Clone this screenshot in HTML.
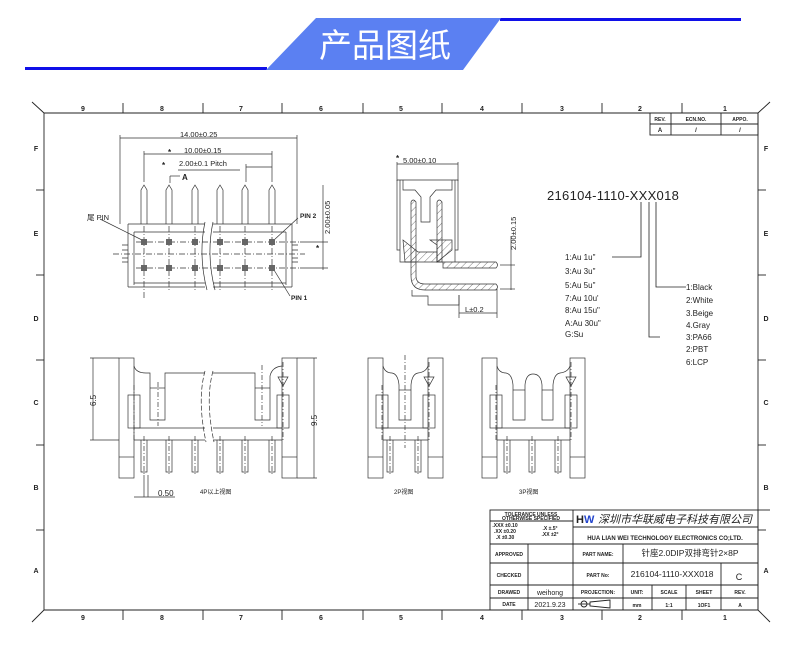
<!DOCTYPE html>
<html><head><meta charset="utf-8">
<style>
html,body{margin:0;padding:0;background:#fff;}
svg{display:block;}
text{font-family:"Liberation Sans","Noto Sans CJK SC",sans-serif;fill:#222;}
</style></head>
<body>
<svg width="790" height="663" viewBox="0 0 790 663" xmlns="http://www.w3.org/2000/svg">
<defs>
<pattern id="h" width="5" height="5" patternUnits="userSpaceOnUse" patternTransform="rotate(45)">
<line x1="0" y1="0" x2="0" y2="5" stroke="#444" stroke-width="0.7"/>
</pattern>
</defs>
<!-- header -->
<rect x="25" y="67" width="242" height="3" fill="#1010e8"/>
<rect x="500" y="18" width="241" height="3" fill="#1010e8"/>
<polygon points="316,18 501,18 463,70 266,70" fill="#5b80f2"/>
<text x="385" y="57" font-size="33" text-anchor="middle" style="fill:#fff;font-family:'Noto Sans CJK SC',sans-serif">产品图纸</text>

<g stroke="#222" stroke-width="0.9" fill="none">
<!-- frame -->
<line x1="32" y1="102" x2="44" y2="113"/>
<line x1="770" y1="102" x2="758" y2="113"/>
<line x1="44" y1="113" x2="758" y2="113"/>
<line x1="44" y1="113" x2="44" y2="610"/>
<line x1="758" y1="113" x2="758" y2="610"/>
<line x1="44" y1="610" x2="758" y2="610"/>
<line x1="32" y1="622" x2="44" y2="610"/>
<line x1="770" y1="622" x2="758" y2="610"/>
<g>
<line x1="123" y1="103" x2="123" y2="113"/><line x1="203" y1="103" x2="203" y2="113"/>
<line x1="282" y1="103" x2="282" y2="113"/><line x1="363" y1="103" x2="363" y2="113"/>
<line x1="442" y1="103" x2="442" y2="113"/><line x1="522" y1="103" x2="522" y2="113"/>
<line x1="602" y1="103" x2="602" y2="113"/><line x1="682" y1="103" x2="682" y2="113"/>
<line x1="123" y1="610" x2="123" y2="620"/><line x1="203" y1="610" x2="203" y2="620"/>
<line x1="282" y1="610" x2="282" y2="620"/><line x1="363" y1="610" x2="363" y2="620"/>
<line x1="442" y1="610" x2="442" y2="620"/><line x1="522" y1="610" x2="522" y2="620"/>
<line x1="602" y1="610" x2="602" y2="620"/><line x1="682" y1="610" x2="682" y2="620"/>
<line x1="44" y1="190" x2="36" y2="190"/><line x1="44" y1="275" x2="36" y2="275"/>
<line x1="44" y1="360" x2="36" y2="360"/><line x1="44" y1="445" x2="36" y2="445"/>
<line x1="44" y1="530" x2="36" y2="530"/>
<line x1="758" y1="190" x2="766" y2="190"/><line x1="758" y1="275" x2="766" y2="275"/>
<line x1="758" y1="360" x2="766" y2="360"/><line x1="758" y1="445" x2="766" y2="445"/>
<line x1="758" y1="530" x2="766" y2="530"/>
</g>
<!-- rev table -->
<rect x="650" y="113" width="108" height="22"/>
<line x1="650" y1="124" x2="758" y2="124"/>
<line x1="671" y1="113" x2="671" y2="135"/><line x1="721" y1="113" x2="721" y2="135"/>
</g>
<g font-size="7" font-weight="bold" text-anchor="middle">
<text x="83" y="111">9</text><text x="162" y="111">8</text><text x="241" y="111">7</text>
<text x="321" y="111">6</text><text x="401" y="111">5</text><text x="482" y="111">4</text>
<text x="562" y="111">3</text><text x="640" y="111">2</text><text x="725" y="111">1</text>
<text x="83" y="620">9</text><text x="162" y="620">8</text><text x="241" y="620">7</text>
<text x="321" y="620">6</text><text x="401" y="620">5</text><text x="482" y="620">4</text>
<text x="562" y="620">3</text><text x="640" y="620">2</text><text x="725" y="620">1</text>
<text x="36" y="151">F</text><text x="36" y="236">E</text><text x="36" y="321">D</text>
<text x="36" y="405">C</text><text x="36" y="490">B</text><text x="36" y="573">A</text>
<text x="766" y="151">F</text><text x="766" y="236">E</text><text x="766" y="321">D</text>
<text x="766" y="405">C</text><text x="766" y="490">B</text><text x="766" y="573">A</text>
<text x="660" y="121" font-size="5">REV.</text><text x="696" y="121" font-size="5">ECN.NO.</text><text x="740" y="121" font-size="5">APPO.</text>
<text x="660" y="132" font-size="6">A</text><text x="696" y="132" font-size="6">/</text><text x="740" y="132" font-size="6">/</text>
</g>

<!-- FRONT VIEW -->
<g stroke="#333" stroke-width="0.7" fill="none">
<line x1="120" y1="138" x2="297" y2="138"/>
<line x1="120" y1="135" x2="120" y2="224"/><line x1="297" y1="135" x2="297" y2="224"/>
<line x1="144" y1="154" x2="272" y2="154"/>
<line x1="144" y1="151" x2="144" y2="182"/><line x1="272" y1="151" x2="272" y2="182"/>
<line x1="246" y1="167" x2="272" y2="167"/><line x1="246" y1="164" x2="246" y2="182"/>
<line x1="178" y1="170" x2="240" y2="170"/>
<line x1="170" y1="176" x2="180" y2="176"/><line x1="170" y1="176" x2="170" y2="183"/>
<!-- pins -->
<path d="M141,224 V190 L144,185 L147,190 V224 M166,224 V190 L169,185 L172,190 V224 M192,224 V190 L195,185 L198,190 V224 M217,224 V190 L220,185 L223,190 V224 M242,224 V190 L245,185 L248,190 V224 M269,224 V190 L272,185 L275,190 V224"/>
<!-- body -->
<path d="M128,224 H205 M213,224 H292 V287 M128,224 V287 M134,232 H205 M213,232 H286 M134,232 V285 M286,232 V285 M128,287 H205 M213,287 H292 M134,283 H205 M213,283 H286"/>
<path d="M122,245 H128 M122,250 H128 M122,258 H128 M122,262 H128 M292,245 H298 M292,250 H298 M292,258 H298 M292,262 H298"/>
<path d="M205,222 Q198,255 207,290 M213,222 Q206,255 215,290"/>
<g stroke-dasharray="6,2,1,2">
<line x1="113" y1="254" x2="305" y2="254"/>
<line x1="136" y1="242" x2="300" y2="242"/><line x1="136" y1="268" x2="300" y2="268"/>
<line x1="144" y1="226" x2="144" y2="300"/><line x1="169" y1="226" x2="169" y2="292"/><line x1="195" y1="226" x2="195" y2="292"/>
<line x1="220" y1="226" x2="220" y2="292"/><line x1="245" y1="226" x2="245" y2="292"/><line x1="272" y1="226" x2="272" y2="292"/>
</g>
<line x1="300" y1="242" x2="328" y2="242"/><line x1="300" y1="268" x2="328" y2="268"/>
<line x1="323" y1="185" x2="323" y2="270"/>
<line x1="100" y1="219" x2="142" y2="240"/>
<line x1="298" y1="218" x2="274" y2="240"/>
<line x1="290" y1="296" x2="274" y2="270"/>
</g>
<g fill="#666">
<rect x="141" y="239" width="6" height="6"/><rect x="166" y="239" width="6" height="6"/><rect x="192" y="239" width="6" height="6"/><rect x="217" y="239" width="6" height="6"/><rect x="242" y="239" width="6" height="6"/><rect x="269" y="239" width="6" height="6"/>
<rect x="141" y="265" width="6" height="6"/><rect x="166" y="265" width="6" height="6"/><rect x="192" y="265" width="6" height="6"/><rect x="217" y="265" width="6" height="6"/><rect x="242" y="265" width="6" height="6"/><rect x="269" y="265" width="6" height="6"/>
</g>
<g font-size="7.5" style="fill:#555">
<text x="180" y="137">14.00±0.25</text>
<text x="184" y="153">10.00±0.15</text>
<text x="179" y="166">2.00±0.1 Pitch</text>
<text x="0" y="0" transform="translate(330,234) rotate(-90)">2.00±0.05</text>
<text x="87" y="220">尾 PIN</text>
</g>
<g font-size="8" font-weight="bold">
<text x="168" y="155">*</text><text x="162" y="168">*</text>
<text x="182" y="180">A</text>
<text x="316" y="251">*</text>
<text x="300" y="218" font-size="6.5">PIN 2</text>
<text x="291" y="300" font-size="6.5">PIN 1</text>
</g>

<!-- SIDE VIEW -->
<g stroke="#333" stroke-width="0.7" fill="none">
<line x1="397" y1="164" x2="458" y2="164"/>
<line x1="397" y1="162" x2="397" y2="181"/><line x1="458" y1="162" x2="458" y2="181"/>
<path d="M397,180 H458 V250 H455 V262 M397,180 V250 H400 V262 H411 M400,180 V250 M455,180 V250"/>
<path d="M403,180 V190 H415 L421,197 V222 H430 V197 L436,190 H452 V180"/>
<path d="M412,290 V296 H428 V305 H459 V295"/>
<line x1="459" y1="295" x2="459" y2="318"/><line x1="497" y1="289" x2="497" y2="318"/>
<line x1="459" y1="313" x2="497" y2="313"/>
<line x1="500" y1="265" x2="515" y2="265"/><line x1="500" y1="289" x2="515" y2="289"/>
<line x1="511" y1="236" x2="511" y2="290"/>
</g>
<g stroke="#333" stroke-width="0.7" fill="url(#h)">
<path d="M411,262 V202 Q413,198 416,202 V262 Z"/>
<path d="M437,262 V202 Q439,198 442,202 V262 Z"/>
<path d="M403,240 L418,252 H437 V262 H405 Z"/>
<path d="M430,240 H452 V250 L437,262 V245 Z"/>
<path d="M437,262 H496 Q499,265 496,268 H443 V262 Z"/>
<path d="M411,262 H416 V276 Q416,284 425,284 H496 Q499,287 496,290 H425 Q411,290 411,276 Z"/>
</g>
<g font-size="7.5" style="fill:#555">
<text x="403" y="163">5.00±0.10</text>
<text x="0" y="0" transform="translate(516,250) rotate(-90)">2.00±0.15</text>
<text x="465" y="312">L±0.2</text>
</g>
<text x="396" y="161" font-size="8" font-weight="bold">*</text>

<!-- part number -->
<text x="547" y="200" font-size="13" letter-spacing="0.3">216104-1110-XXX018</text>
<g stroke="#222" stroke-width="0.8" fill="none">
<path d="M641,202 V257 H612"/>
<path d="M649,202 V337 H660"/>
<path d="M656,202 V287 H686"/>
</g>
<g font-size="8">
<text x="565" y="260">1:Au  1u"</text><text x="565" y="274">3:Au  3u"</text>
<text x="565" y="288">5:Au  5u"</text><text x="565" y="301">7:Au  10u'</text>
<text x="565" y="313">8:Au  15u"</text><text x="565" y="326">A:Au  30u"</text>
<text x="565" y="337">G:Su</text>
<text x="686" y="290">1:Black</text><text x="686" y="303">2:White</text>
<text x="686" y="316">3.Beige</text><text x="686" y="328">4.Gray</text>
<text x="686" y="340">3:PA66</text><text x="686" y="352">2:PBT</text>
<text x="686" y="365">6:LCP</text>
</g>

<!-- BOTTOM VIEWS -->
<g stroke="#333" stroke-width="0.7" fill="none">
<!-- 4P -->
<rect x="119" y="358" width="15" height="120"/><rect x="282" y="358" width="15" height="120"/>
<line x1="119" y1="457" x2="134" y2="457"/><line x1="282" y1="457" x2="297" y2="457"/>
<path d="M134,428 H205 M213,428 H282 M134,440 H205 M213,440 H282"/>
<path d="M134,366 Q136,373 146,373 H150 V420 H165 V373 H205 M213,373 H255 V420 H270 V376 Q272,367 282,366"/>
<line x1="150" y1="388" x2="165" y2="388"/><line x1="255" y1="388" x2="270" y2="388"/>
<rect x="128" y="395" width="12" height="33"/><rect x="277" y="395" width="12" height="33"/>
<path d="M205,371 Q197,400 206,442 M213,371 Q205,400 214,442" stroke-dasharray="5,2"/>
<path d="M141,440 V472 H147 V440 M166,440 V472 H172 V440 M192,440 V472 H198 V440 M217,440 V472 H223 V440 M242,440 V472 H248 V440 M269,440 V472 H275 V440"/>
<path d="M278,377 H288 L283,386 Z"/>
<line x1="93" y1="358" x2="93" y2="440"/><line x1="90" y1="358" x2="119" y2="358"/><line x1="90" y1="440" x2="119" y2="440"/>
<line x1="314" y1="358" x2="314" y2="478"/><line x1="297" y1="358" x2="317" y2="358"/><line x1="297" y1="478" x2="317" y2="478"/>
<line x1="144" y1="475" x2="144" y2="497"/><line x1="148" y1="475" x2="148" y2="497"/>
<line x1="134" y1="497" x2="175" y2="497"/>
<g stroke-dasharray="5,2,1,2">
<line x1="134" y1="385" x2="134" y2="442"/><line x1="158" y1="382" x2="158" y2="426"/>
<line x1="262" y1="365" x2="262" y2="426"/><line x1="283" y1="362" x2="283" y2="442"/>
<line x1="144" y1="436" x2="144" y2="476"/><line x1="169" y1="436" x2="169" y2="476"/><line x1="195" y1="436" x2="195" y2="476"/>
<line x1="220" y1="436" x2="220" y2="476"/><line x1="245" y1="436" x2="245" y2="476"/><line x1="272" y1="436" x2="272" y2="476"/>
</g>
<!-- 2P -->
<rect x="368" y="358" width="15" height="120"/><rect x="428" y="358" width="15" height="120"/>
<line x1="368" y1="457" x2="383" y2="457"/><line x1="428" y1="457" x2="443" y2="457"/>
<path d="M383,428 H428 M383,440 H428"/>
<path d="M383,366 Q385,373 392,373 Q398,374 399,385 V420 H411 V385 Q412,374 418,373 Q426,372 428,366"/>
<line x1="399" y1="390" x2="411" y2="390"/>
<rect x="376" y="395" width="12" height="33"/><rect x="423" y="395" width="12" height="33"/>
<path d="M387,440 V472 H393 V440 M415,440 V472 H421 V440"/>
<path d="M424,377 H434 L429,386 Z"/>
<g stroke-dasharray="5,2,1,2">
<line x1="405" y1="355" x2="405" y2="448"/><line x1="382" y1="385" x2="382" y2="442"/>
<line x1="429" y1="362" x2="429" y2="442"/><line x1="390" y1="436" x2="390" y2="476"/><line x1="418" y1="436" x2="418" y2="476"/>
</g>
<!-- 3P -->
<rect x="482" y="358" width="15" height="120"/><rect x="570" y="358" width="15" height="120"/>
<line x1="482" y1="457" x2="497" y2="457"/><line x1="570" y1="457" x2="585" y2="457"/>
<path d="M497,428 H570 M497,440 H570"/>
<path d="M497,366 Q499,373 506,373 Q512,374 513,385 V420 H525 V385 Q526,374 533,374 Q541,374 542,385 V420 H553 V385 Q554,374 560,373 Q568,372 570,366"/>
<line x1="513" y1="390" x2="525" y2="390"/><line x1="542" y1="390" x2="553" y2="390"/>
<rect x="490" y="395" width="12" height="33"/><rect x="565" y="395" width="12" height="33"/>
<path d="M504,440 V472 H510 V440 M529,440 V472 H535 V440 M555,440 V472 H561 V440"/>
<path d="M566,377 H576 L571,386 Z"/>
<g stroke-dasharray="5,2,1,2">
<line x1="496" y1="385" x2="496" y2="442"/><line x1="571" y1="362" x2="571" y2="442"/>
<line x1="507" y1="436" x2="507" y2="476"/><line x1="532" y1="436" x2="532" y2="476"/><line x1="558" y1="436" x2="558" y2="476"/>
</g>
</g>
<g font-size="8" style="fill:#555">
<text x="0" y="0" transform="translate(96,406) rotate(-90)">6.5</text>
<text x="0" y="0" transform="translate(317,426) rotate(-90)">9.5</text>
<text x="158" y="496">0.50</text>
</g>
<g font-size="6" style="fill:#333">
<text x="200" y="494">4P以上视图</text>
<text x="394" y="494">2P视图</text>
<text x="519" y="494">3P视图</text>
</g>

<!-- TITLE BLOCK -->
<g stroke="#222" stroke-width="0.9" fill="none">
<rect x="490" y="510" width="268" height="100"/>
<line x1="490" y1="521" x2="573" y2="521"/>
<line x1="490" y1="544" x2="758" y2="544"/>
<line x1="573" y1="527" x2="758" y2="527"/>
<line x1="490" y1="563" x2="758" y2="563"/>
<line x1="490" y1="585" x2="758" y2="585"/>
<line x1="490" y1="598" x2="758" y2="598"/>
<line x1="573" y1="510" x2="573" y2="610"/>
<line x1="528" y1="544" x2="528" y2="610"/>
<line x1="623" y1="544" x2="623" y2="610"/>
<line x1="721" y1="563" x2="721" y2="610"/>
<line x1="652" y1="585" x2="652" y2="610"/>
<line x1="686" y1="585" x2="686" y2="610"/>
<line x1="758" y1="510" x2="770" y2="510"/>
<circle cx="584" cy="604" r="3"/><line x1="578" y1="604" x2="590" y2="604"/>
<path d="M590,602 L610,600 V608 L590,606 Z"/>
</g>
<g font-size="5" font-weight="bold" text-anchor="middle">
<text x="531" y="516">TOLERANCE UNLESS</text>
<text x="531" y="520">OTHERWISE SPECIFIED</text>
<text x="505" y="527">.XXX ±0.10</text><text x="505" y="533">.XX ±0.20</text><text x="505" y="539">.X ±0.30</text>
<text x="550" y="530">.X  ±.5°</text><text x="550" y="536">.XX ±2°</text>
<text x="509" y="556">APPROVED</text>
<text x="509" y="577">CHECKED</text>
<text x="509" y="594">DRAWED</text>
<text x="509" y="606">DATE</text>
<text x="598" y="556">PART NAME:</text>
<text x="598" y="577">PART No:</text>
<text x="598" y="594">PROJECTION:</text>
<text x="637" y="594">UNIT:</text><text x="669" y="594">SCALE</text><text x="704" y="594">SHEET</text><text x="740" y="594">REV.</text>
<text x="637" y="607">mm</text><text x="669" y="607">1:1</text><text x="704" y="607">1OF1</text><text x="740" y="607">A</text>
<text x="665" y="540" font-size="6">HUA LIAN WEI TECHNOLOGY ELECTRONICS CO;LTD.</text>
</g>
<text x="739" y="580" font-size="9" text-anchor="middle">C</text>
<g font-size="7" text-anchor="middle" style="fill:#777;font-family:'Liberation Serif','Noto Serif CJK SC',serif">
<text x="550" y="595">weihong</text>
<text x="550" y="607">2021.9.23</text>
<text x="690" y="556" font-size="8.5">针座2.0DIP双排弯针2×8P</text>
<text x="672" y="577" font-size="8.5">216104-1110-XXX018</text>
</g>
<text x="576" y="523" font-size="11" font-weight="bold" style="fill:#222">H</text>
<text x="584" y="523" font-size="11" font-weight="bold" style="fill:#2244cc">W</text>
<text x="598" y="523" font-size="11" font-style="italic" style="fill:#222;font-family:'Noto Sans CJK SC',sans-serif">深圳市华联威电子科技有限公司</text>
</svg>
</body></html>
